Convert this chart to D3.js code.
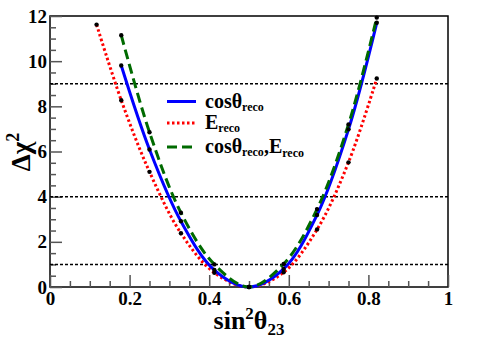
<!DOCTYPE html>
<html>
<head>
<meta charset="utf-8">
<script src="https://cdn.jsdelivr.net/npm/d3@7"></script>
<style>
  body { margin: 0; background: #fff; }
  text { font-family: "Liberation Serif", "DejaVu Serif", serif; font-weight: bold; }
</style>
</head>
<body>
<svg id="chart"></svg>
<script>
// values
var xTicks = [0, 0.2, 0.4, 0.6, 0.8, 1];
var yTicks = [0, 2, 4, 6, 8, 10, 12];
var refLevels = [1, 4, 9]; // 1,2,3 sigma lines

var sinCos = [0.179, 0.25, 0.329, 0.413, 0.5, 0.587, 0.671, 0.75, 0.821];
var chiCos = [9.81, 6.09, 2.91, 0.75, 0, 0.80, 3.19, 6.98, 11.7];

var sinE = [0.117, 0.179, 0.25, 0.329, 0.413, 0.5, 0.587, 0.671, 0.75, 0.821];
var chiE = [11.62, 8.27, 5.10, 2.38, 0.63, 0, 0.65, 2.55, 5.52, 9.23];

var sinBoth = [0.179, 0.25, 0.329, 0.413, 0.5, 0.587, 0.671, 0.75, 0.821];
var chiBoth = [11.15, 6.85, 3.29, 1.00, 0, 1.02, 3.45, 7.2, 11.93];

var W = 498, H = 339;
var pLeft = 50, pRight = 448, pTop = 16, pBottom = 287;

var x = d3.scaleLinear().domain([0, 1]).range([pLeft, pRight]);
var y = d3.scaleLinear().domain([0, 12]).range([pBottom, pTop]);

var svg = d3.select("#chart").attr("width", W).attr("height", H);

// frame
svg.append("rect")
  .attr("x", pLeft).attr("y", pTop)
  .attr("width", pRight - pLeft).attr("height", pBottom - pTop)
  .attr("fill", "none").attr("stroke", "#000").attr("stroke-width", 1.5);

// ticks (inside, ROOT style)
var yAxis = d3.axisRight(y).tickValues(d3.range(0, 12.01, 0.5)).tickSize(6).tickFormat("");
svg.append("g").attr("transform", "translate(" + pLeft + ",0)").call(yAxis)
  .call(function(g){
    g.select(".domain").remove();
    g.selectAll(".tick line").attr("stroke", "#555").attr("stroke-width", 1.5)
      .attr("x2", function(d){ return d % 2 === 0 ? 12 : 6; });
  });
svg.append("g").attr("transform", "translate(" + pLeft + ",0)")
  .call(d3.axisLeft(y).tickValues(yTicks).tickSize(0).tickPadding(3))
  .call(function(g){
    g.select(".domain").remove();
    g.selectAll("text").attr("font-size", 19).attr("fill", "#000")
      .attr("font-family", "Liberation Serif").attr("font-weight", "bold");
  });

var xAxis = d3.axisTop(x).tickValues(d3.range(0, 1.001, 0.05)).tickSize(6).tickFormat("");
svg.append("g").attr("transform", "translate(0," + pBottom + ")").call(xAxis)
  .call(function(g){
    g.select(".domain").remove();
    g.selectAll(".tick line").attr("stroke", "#555").attr("stroke-width", 1.5)
      .attr("y2", function(d){ return Math.abs(d * 5 - Math.round(d * 5)) < 1e-6 ? -12 : -6; });
  });
svg.append("g").attr("transform", "translate(0," + pBottom + ")")
  .call(d3.axisBottom(x).tickValues(xTicks).tickSize(0).tickPadding(5).tickFormat(function(d){ return d === 0 ? "0" : d3.format("")(d); }))
  .call(function(g){
    g.select(".domain").remove();
    g.selectAll("text").attr("font-size", 19).attr("fill", "#000")
      .attr("font-family", "Liberation Serif").attr("font-weight", "bold");
  });

// reference lines
svg.selectAll(".ref").data(refLevels).enter().append("line")
  .attr("x1", pLeft).attr("x2", pRight)
  .attr("y1", function(d){ return y(d); }).attr("y2", function(d){ return y(d); })
  .attr("stroke", "#000").attr("stroke-width", 1.5).attr("stroke-dasharray", "3,2");

var series = [
  {xs: sinE, ys: chiE, color: "#ff0000", dash: "2.5,2.5", w: 3},
  {xs: sinCos, ys: chiCos, color: "#0000ff", dash: null, w: 3},
  {xs: sinBoth, ys: chiBoth, color: "#006a00", dash: "10,5", w: 3}
];

var line = d3.line()
  .x(function(d){ return x(d[0]); })
  .y(function(d){ return y(d[1]); })
  .curve(d3.curveCatmullRom.alpha(0.5));

series.forEach(function(s){
  var pts = d3.zip(s.xs, s.ys);
  svg.append("path").datum(pts)
    .attr("d", line)
    .attr("fill", "none")
    .attr("stroke", s.color)
    .attr("stroke-width", s.w)
    .attr("stroke-dasharray", s.dash);
});
series.forEach(function(s){
  var pts = d3.zip(s.xs, s.ys);
  svg.selectAll(null).data(pts).enter().append("circle")
    .attr("cx", function(d){ return x(d[0]); })
    .attr("cy", function(d){ return y(d[1]); })
    .attr("r", 2.2).attr("fill", "#000");
});

// legend
var legend = [
  {color: "#0000ff", dash: null, main: "cosθ", sub: "reco", tail: null, y: 101.5},
  {color: "#ff0000", dash: "2.5,2.5", main: "E", sub: "reco", tail: null, y: 123},
  {color: "#006a00", dash: "10,5", main: "cosθ", sub: "reco", tail: ",E", y: 147}
];
legend.forEach(function(l){
  svg.append("line").attr("x1", 167).attr("x2", 196).attr("y1", l.y).attr("y2", l.y)
    .attr("stroke", l.color).attr("stroke-width", 3).attr("stroke-dasharray", l.dash);
  var t = svg.append("text").attr("x", 205).attr("y", l.y + 6).attr("font-size", 20).attr("fill", "#000");
  t.append("tspan").text(l.main);
  t.append("tspan").attr("font-size", 12).attr("dy", 3).text(l.sub);
  if (l.tail) {
    t.append("tspan").attr("dy", -3).text(l.tail);
    t.append("tspan").attr("font-size", 12).attr("dy", 4).text("reco");
  }
});

// axis titles
var xt = svg.append("text").attr("x", 249).attr("y", 329).attr("text-anchor", "middle")
  .attr("font-size", 26).attr("fill", "#000");
xt.append("tspan").text("sin");
xt.append("tspan").attr("font-size", 17).attr("dy", -10).text("2");
xt.append("tspan").attr("dy", 10).text("θ");
xt.append("tspan").attr("font-size", 17).attr("dy", 6).text("23");

var yt = svg.append("text").attr("transform", "translate(30,152) rotate(-90)")
  .attr("text-anchor", "middle").attr("font-size", 27).attr("fill", "#000");
yt.append("tspan").text("Δχ");
yt.append("tspan").attr("font-size", 18).attr("dy", -11).text("2");
</script>
</body>
</html>
